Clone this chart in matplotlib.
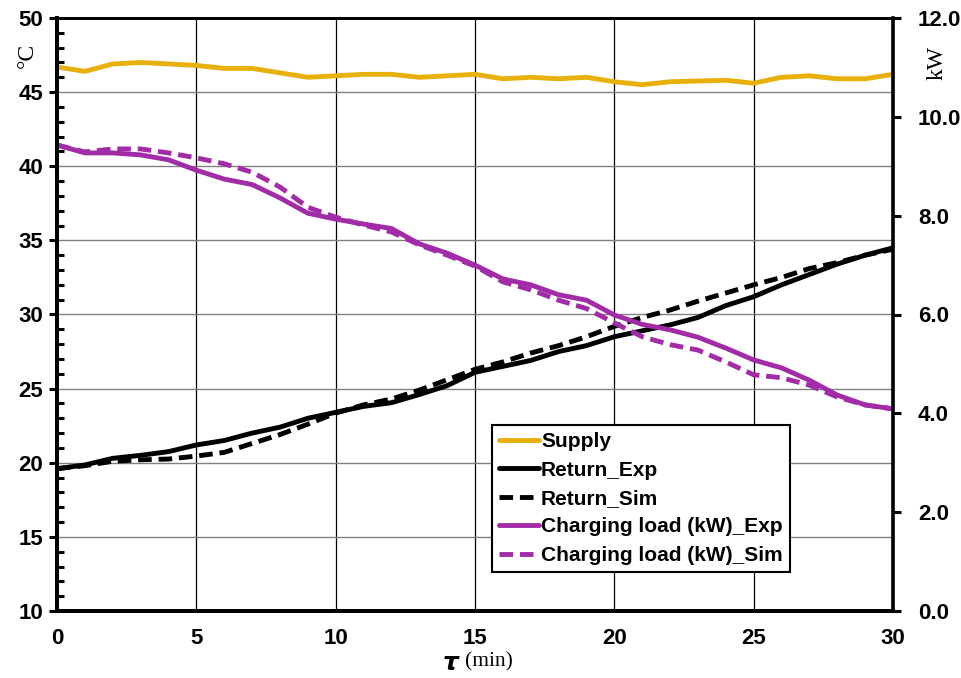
import numpy as np
import matplotlib
matplotlib.use("Agg")
import matplotlib.pyplot as plt
from matplotlib.ticker import MultipleLocator

# time in minutes
t = np.arange(0, 31)

supply = [46.7, 46.4, 46.9, 47.0, 46.9, 46.8, 46.6, 46.6, 46.3, 46.0,
          46.1, 46.2, 46.2, 46.0, 46.1, 46.2, 45.9, 46.0, 45.9, 46.0,
          45.7, 45.5, 45.7, 45.75, 45.8, 45.6, 46.0, 46.1, 45.9, 45.9, 46.2]

return_exp = [19.6, 19.85, 20.3, 20.5, 20.75, 21.2, 21.5, 22.0, 22.4, 23.0,
              23.4, 23.8, 24.05, 24.6, 25.2, 26.1, 26.5, 26.9, 27.5, 27.9,
              28.5, 28.9, 29.3, 29.8, 30.6, 31.2, 32.0, 32.7, 33.4, 34.0, 34.5]

return_sim = [19.6, 19.8, 20.1, 20.2, 20.25, 20.45, 20.7, 21.3, 21.9, 22.6,
              23.35, 23.9, 24.3, 24.9, 25.6, 26.3, 26.8, 27.4, 27.9, 28.5,
              29.2, 29.8, 30.3, 30.9, 31.45, 32.0, 32.5, 33.1, 33.5, 34.0, 34.4]

# charging load, kW (right axis)
load_exp = [9.43, 9.27, 9.27, 9.23, 9.13, 8.92, 8.74, 8.63, 8.36, 8.05,
            7.93, 7.83, 7.74, 7.43, 7.24, 7.0, 6.72, 6.6, 6.4, 6.29,
            5.99, 5.8, 5.69, 5.54, 5.32, 5.08, 4.92, 4.67, 4.37, 4.17, 4.09]

load_sim = [9.43, 9.29, 9.35, 9.35, 9.27, 9.17, 9.05, 8.88, 8.58, 8.17,
            7.97, 7.81, 7.67, 7.41, 7.2, 6.98, 6.66, 6.5, 6.29, 6.12,
            5.83, 5.55, 5.39, 5.28, 5.04, 4.78, 4.72, 4.57, 4.33, 4.17, 4.09]

gold = "#E8B00A"
purple = "#A22BA8"
lw = 3.5
dash = (0, (2.8, 1.4))
style = dict(lw=lw, solid_joinstyle="round", solid_capstyle="round",
             dash_joinstyle="round")

fig = plt.figure(figsize=(9.61, 6.78), dpi=100)
ax = fig.add_axes([57/961, 1 - 611/678, (893 - 57)/961, (611 - 18)/678])
ax2 = ax.twinx()

l1, = ax.plot(t, supply, color=gold, label="Supply", **style)
l2, = ax.plot(t, return_exp, color="black", label="Return_Exp", **style)
l3, = ax.plot(t, return_sim, color="black", ls=dash, label="Return_Sim", **style)
l4, = ax2.plot(t, load_exp, color=purple, label="Charging load (kW)_Exp", **style)
l5, = ax2.plot(t, load_sim, color=purple, ls=dash, label="Charging load (kW)_Sim", **style)

ax.set_xlim(0, 30)
ax.set_ylim(10, 50)
ax2.set_ylim(0, 12)

ax.xaxis.set_major_locator(MultipleLocator(5))
ax.yaxis.set_major_locator(MultipleLocator(5))
ax.yaxis.set_minor_locator(MultipleLocator(1))
ax2.yaxis.set_major_locator(MultipleLocator(2))
ax2.yaxis.set_major_formatter(matplotlib.ticker.FormatStrFormatter("%.1f"))

ax.yaxis.grid(True, color="#808080", lw=1.0)
ax.xaxis.grid(True, color="black", lw=0.9)
ax.set_axisbelow(True)

for lab in ax.get_xticklabels() + ax.get_yticklabels() + ax2.get_yticklabels():
    lab.set_fontfamily("Liberation Sans")
    lab.set_fontweight("bold")
    lab.set_fontsize(16)

ax.tick_params(axis="x", length=0, pad=12)
ax.tick_params(axis="y", which="major", direction="out", length=6, width=2.2, pad=4)
ax.tick_params(axis="y", which="minor", direction="in", length=5, width=2.2)
ax2.tick_params(axis="y", direction="out", length=6, width=2.2, pad=12)

for sp in ["left", "bottom"]:
    ax.spines[sp].set_linewidth(2.8)
ax.spines["top"].set_linewidth(2.0)
ax2.spines["right"].set_linewidth(2.6)
ax2.spines["top"].set_linewidth(2.0)
ax2.spines["left"].set_linewidth(2.8)
ax2.spines["bottom"].set_linewidth(2.8)

fig.text(27/961, 1 - 55/678, "°C", family="Liberation Serif", fontsize=17,
         rotation=90, ha="center", va="center")
fig.text(937/961, 1 - 63/678, "kW", family="Liberation Serif", fontsize=17,
         rotation=90, ha="center", va="center")

fig.text(461/961, 1 - 663/678, r"$\boldsymbol{\tau}$", ha="right",
         va="center", fontsize=18)
fig.text(465/961, 1 - 662/678, "(min)", ha="left", va="center",
         family="Liberation Serif", fontsize=15.5)

leg = ax2.legend(handles=[l1, l2, l3, l4, l5], loc="upper left",
                 bbox_to_anchor=((492 - 57)/836, 1 - (425 - 18)/593),
                 prop=dict(family="Liberation Sans", weight="bold", size=15),
                 frameon=True, fancybox=False, edgecolor="black",
                 framealpha=1, handlelength=1.9, handletextpad=0.1,
                 labelspacing=0.45, borderpad=0.35, borderaxespad=0)
leg.get_frame().set_linewidth(1.5)

fig.savefig("out.png", dpi=100)
